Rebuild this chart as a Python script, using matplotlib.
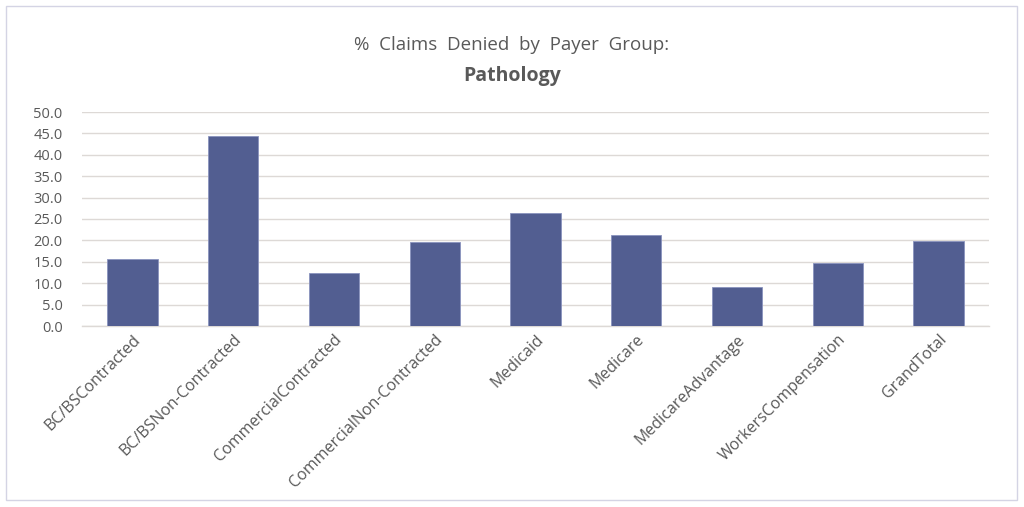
import matplotlib.pyplot as plt
from matplotlib.patches import Rectangle

categories = ["BC/BSContracted", "BC/BSNon-Contracted", "CommercialContracted",
              "CommercialNon-Contracted", "Medicaid", "Medicare",
              "MedicareAdvantage", "WorkersCompensation", "GrandTotal"]
denied_pct = [15.6, 44.4, 12.4, 19.6, 26.3, 21.3, 9.2, 14.7, 19.8]
y_ticks = [0, 5, 10, 15, 20, 25, 30, 35, 40, 45, 50]

plt.rcParams['font.family'] = ['Open Sans', 'DejaVu Sans']

fig = plt.figure(figsize=(10.24, 5.07), dpi=100)
ax = fig.add_axes([82 / 1024, 1 - 326 / 507, 907 / 1024, 214 / 507])

x = range(len(categories))
ax.bar(x, denied_pct, width=0.5, color="#525E91", edgecolor="#8A93BE",
       linewidth=0.6, zorder=3)

ax.set_xlim(-0.5, len(categories) - 0.5)
ax.set_ylim(0, 50)
ax.set_yticks(y_ticks)
ax.set_yticklabels([f"{v:.1f}" for v in y_ticks], fontsize=10.5, color="#595959")
ax.set_xticks(list(x))
ax.set_xticklabels(categories, rotation=45, ha="right", rotation_mode="anchor",
                   fontsize=11.5, color="#595959")
ax.tick_params(axis="x", length=0, pad=4)
ax.tick_params(axis="y", length=0, pad=14)
ax.grid(axis="y", color="#DDD9D6", linewidth=1.0, zorder=0)
for s in ["top", "right", "left"]:
    ax.spines[s].set_visible(False)
ax.spines["bottom"].set_color("#DDD9D6")
ax.spines["bottom"].set_linewidth(1.0)

fig.text(0.5, 1 - 45 / 507, "%  Claims  Denied  by  Payer  Group:", ha="center",
         va="center", fontsize=13.5, color="#595959")
fig.text(0.5, 1 - 76 / 507, "Pathology", ha="center", va="center",
         fontsize=14, fontweight="bold", color="#595959")

fig.patches.append(Rectangle((6 / 1024, 1 - 500 / 507), 1011 / 1024, 494 / 507,
                             transform=fig.transFigure, fill=False,
                             edgecolor="#D4D4E4", linewidth=1.0))

fig.savefig("out.png", dpi=100)
